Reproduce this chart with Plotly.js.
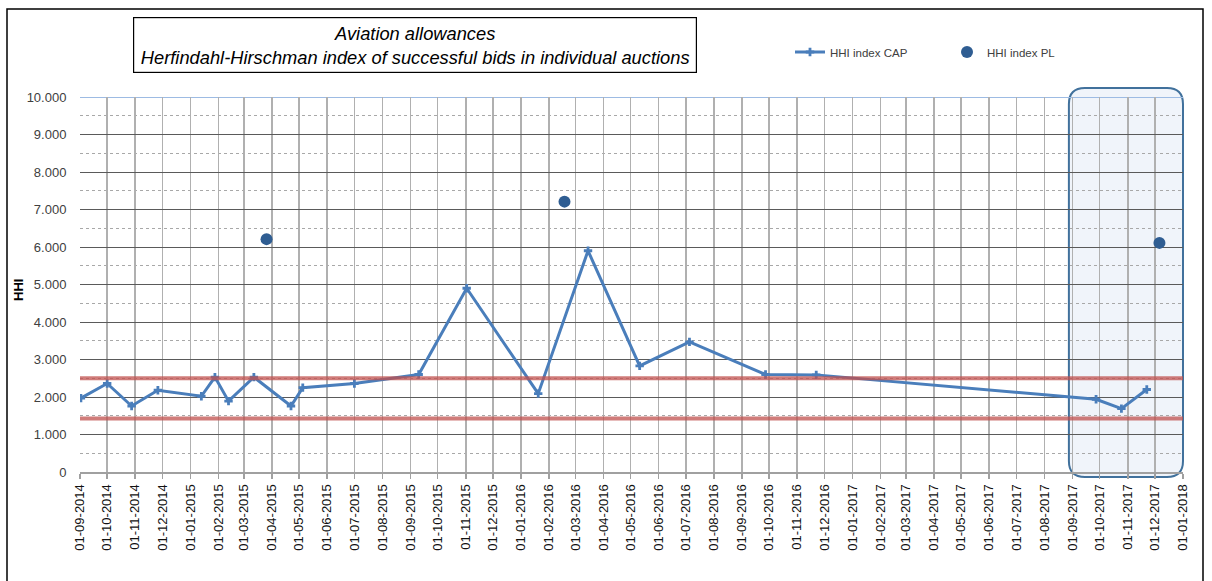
<!DOCTYPE html>
<html>
<head>
<meta charset="utf-8">
<script src="https://cdn.plot.ly/plotly-3.0.1.min.js"></script>
<style>
  html, body { margin: 0; padding: 0; background: #fff; }
  #chart { width: 1212px; height: 581px; }
</style>
</head>
<body>
<div id="chart"></div>
<script>
// ---- Data ----
const capDates = ['2014-09-02','2014-10-01','2014-10-28','2014-11-26','2015-01-13','2015-01-28',
  '2015-02-12','2015-03-12','2015-04-22','2015-05-05','2015-07-01','2015-09-10','2015-11-02',
  '2016-01-20','2016-03-15','2016-05-11','2016-07-05','2016-09-27','2016-11-22','2017-09-27',
  '2017-10-25','2017-11-22'];
const capValues = [1970, 2360, 1760, 2180, 2020, 2530, 1890, 2530, 1760, 2250, 2360, 2600, 4900,
  2090, 5900, 2830, 3470, 2600, 2590, 1940, 1690, 2200];

const plDates = ['2015-03-26', '2016-02-18', '2017-12-06'];
const plValues = [6210, 7210, 6110];

const thresholds = [1430, 2500];
const xRange = ['2014-09-01', '2018-01-01'];
const yRange = [0, 10000];
const highlight = ['2017-08-28', '2018-01-01'];

const titleLines = ['Aviation allowances',
  'Herfindahl-Hirschman index of successful bids in individual auctions'];
const seriesNames = ['HHI index CAP', 'HHI index PL'];
const yTitle = 'HHI';

// ---- Layout geometry ----
const W = 1212, H = 581;
const M = {l: 80, r: 29, t: 97, b: 109};
const PW = W - M.l - M.r, PH = H - M.t - M.b;
const px2paperX = p => (p - M.l) / PW;
const px2paperY = p => (H - M.b - p) / PH;
const t0 = Date.parse(xRange[0]), t1 = Date.parse(xRange[1]);
const date2paper = d => (Date.parse(d) - t0) / (t1 - t0);

// rounded highlight rectangle (paper coords)
function roundedRect(x0, x1, y0, y1, rpx) {
  const rx = rpx / PW, ry = rpx / PH;
  return `M ${x0 + rx} ${y1} L ${x1 - rx} ${y1} Q ${x1} ${y1} ${x1} ${y1 - ry} ` +
         `L ${x1} ${y0 + ry} Q ${x1} ${y0} ${x1 - rx} ${y0} L ${x0 + rx} ${y0} ` +
         `Q ${x0} ${y0} ${x0} ${y0 + ry} L ${x0} ${y1 - ry} Q ${x0} ${y1} ${x0 + rx} ${y1} Z`;
}

const hx0 = date2paper(highlight[0]), hx1 = date2paper(highlight[1]);
const hy0 = px2paperY(477), hy1 = px2paperY(88);

const traces = [
  {
    x: capDates, y: capValues, name: seriesNames[0], type: 'scatter', mode: 'lines+markers',
    line: {color: '#4a7ebb', width: 3},
    marker: {symbol: 'cross', size: 7, color: '#4a7ebb'}
  },
  {
    x: plDates, y: plValues, name: seriesNames[1], type: 'scatter', mode: 'markers',
    marker: {symbol: 'circle', size: 12, color: '#2f5d92'}
  }
];

const shapes = [
  // highlight box
  {type: 'path', xref: 'paper', yref: 'paper', path: roundedRect(hx0, hx1, hy0, hy1, 16),
   fillcolor: 'rgba(222,231,245,0.45)', line: {color: '#41719c', width: 2}, layer: 'between'},
  // top border line in light blue
  {type: 'line', xref: 'paper', yref: 'y', x0: 0, x1: 1, y0: yRange[1], y1: yRange[1],
   line: {color: '#9dbbe3', width: 2}, layer: 'between'},
  // outer chart frame
  {type: 'rect', xref: 'paper', yref: 'paper', x0: px2paperX(7), x1: px2paperX(1203),
   y0: px2paperY(600), y1: px2paperY(9), line: {color: '#000', width: 1.5}, fillcolor: 'rgba(0,0,0,0)'}
];
thresholds.forEach(v => shapes.push({
  type: 'line', xref: 'x', yref: 'y', x0: xRange[0], x1: xRange[1], y0: v, y1: v,
  line: {color: 'rgba(192,80,77,0.75)', width: 4}, layer: 'above'
}));

const layout = {
  width: W, height: H,
  margin: M,
  paper_bgcolor: '#fff', plot_bgcolor: '#fff',
  separators: ',.',
  font: {family: 'Liberation Sans, Arial, sans-serif', size: 13, color: '#404040'},
  showlegend: true,
  legend: {
    orientation: 'h', x: px2paperX(790), y: px2paperY(52), xanchor: 'left', yanchor: 'middle',
    font: {size: 11.5, color: '#404040'}, entrywidth: 112, bgcolor: 'rgba(0,0,0,0)'
  },
  xaxis: {
    type: 'date', range: xRange, dtick: 'M1', tick0: xRange[0], tickformat: '%d-%m-%Y',
    tickangle: -90, tickfont: {size: 13, color: '#111'},
    showgrid: true, gridcolor: '#b0b0b0', gridwidth: 1.5,
    showline: true, linecolor: '#a0a0a0', linewidth: 2,
    ticks: 'outside', ticklen: 5, tickcolor: '#a0a0a0', tickwidth: 1.5,
    zeroline: false, fixedrange: true
  },
  yaxis: {
    range: yRange, dtick: 1000, tick0: 0, tickformat: ',',
    tickfont: {size: 13, color: '#404040'},
    showgrid: true, gridcolor: '#5a5a5a', gridwidth: 1,
    minor: {dtick: 500, showgrid: true, gridcolor: '#a8a8a8', griddash: 'dot', gridwidth: 1},
    ticks: 'outside', ticklen: 10, tickcolor: 'rgba(0,0,0,0)',
    zeroline: false, showline: false,
    fixedrange: true
  },
  shapes: shapes,
  annotations: [
    {
      xref: 'paper', yref: 'paper', x: px2paperX(415), y: px2paperY(45),
      xanchor: 'center', yanchor: 'middle', showarrow: false,
      text: titleLines.map(t => '<i>' + t + '</i>').join('<br>'),
      font: {size: 18.3, color: '#000', family: 'Liberation Sans, Arial, sans-serif'},
      width: 562, height: 54, align: 'center',
      bordercolor: '#000', borderwidth: 1.2, borderpad: 0, bgcolor: '#fff'
    },
    {
      xref: 'paper', yref: 'paper', x: px2paperX(18), y: px2paperY(290),
      xanchor: 'center', yanchor: 'middle', showarrow: false, textangle: -90,
      text: '<b>' + yTitle + '</b>', font: {size: 13, color: '#000'}
    }
  ]
};

Plotly.newPlot('chart', traces, layout, {displayModeBar: false, staticPlot: true});
</script>
</body>
</html>
